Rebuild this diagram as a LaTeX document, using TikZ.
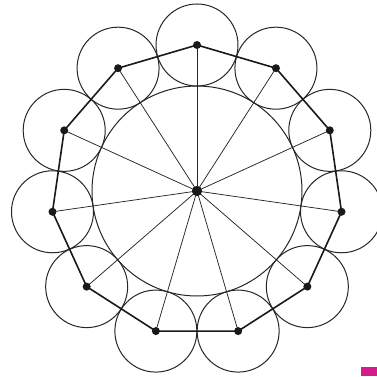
\documentclass[tikz,border=0pt]{standalone}
\usepackage{tikz}
\usetikzlibrary{calc}
\definecolor{markpink}{RGB}{214,28,140}
\tikzstyle{ring} = [draw=black!85, line width=1pt]
\tikzstyle{spoke} = [draw=black!85, line width=0.75pt]
\tikzstyle{rim} = [draw=black!90, line width=1.6pt, line join=round]
\tikzstyle{dot} = [circle, fill=black!90, inner sep=0pt, minimum size=8pt]
\tikzstyle{hubdot} = [circle, fill=black!90, inner sep=0pt, minimum size=10pt]

\begin{document}
\begin{tikzpicture}[x=1pt, y=1pt]
      \useasboundingbox (0,0) rectangle (377,376);

      \node (hub) [hubdot] at (197,185) {};
      \foreach \i in {1,...,11}
        \coordinate (v\i) at ($(197,185)+({90-(\i-1)*360/11}:146)$);

      % big circle and small circles
      \draw [ring] (hub.center) circle (105);
      \foreach \i in {1,...,11}
        \draw [ring] (v\i) circle (41);

      % spokes
      \foreach \i in {1,...,11}
        \draw [spoke] (hub.center) -- (v\i);

      % polygon
      \draw [rim] (v1) -- (v2) -- (v3) -- (v4) -- (v5) -- (v6) -- (v7) -- (v8) -- (v9) -- (v10) -- (v11) -- cycle;

      \foreach \i in {1,...,11}
        \node (p\i) [dot] at (v\i) {};
      \node (hubtop) [hubdot] at (hub) {};

      \fill [markpink] (361,0) rectangle (377,9);
\end{tikzpicture}
\end{document}
